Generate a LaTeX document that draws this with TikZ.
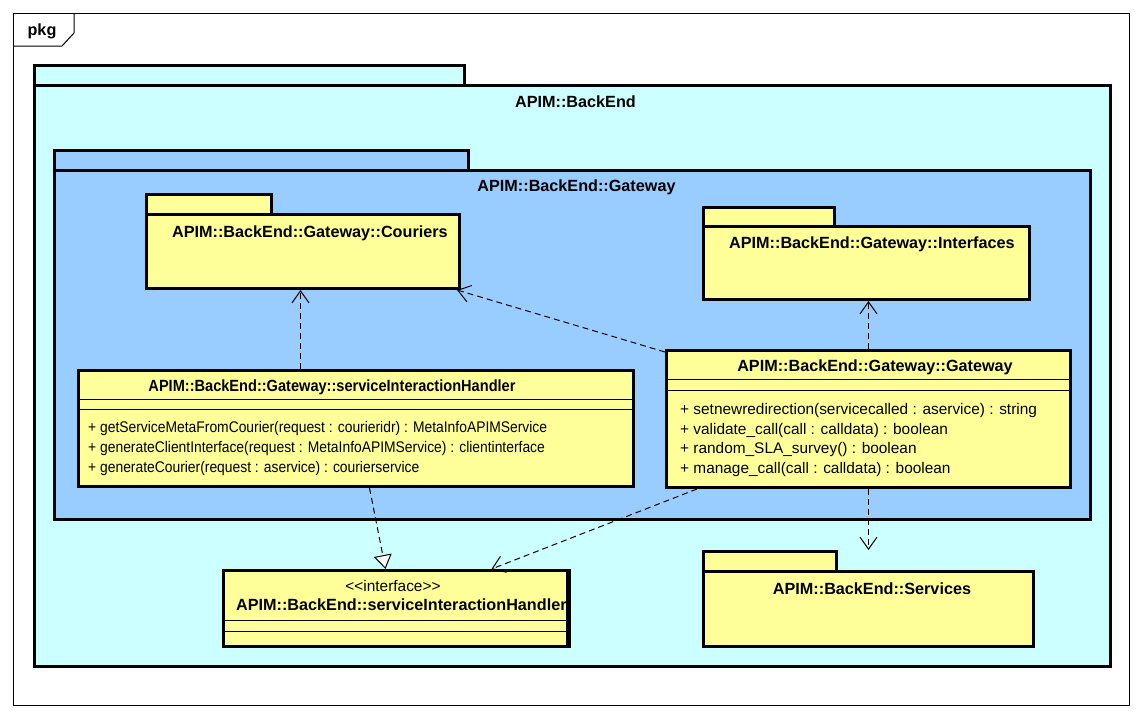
\documentclass[tikz,border=0pt]{standalone}
\usepackage{fontspec}
\setmainfont{Liberation Sans}
\usetikzlibrary{arrows.meta}
\definecolor{pkgcyan}{HTML}{CCFFFF}
\definecolor{pkgblue}{HTML}{99CCFF}
\definecolor{umlyellow}{HTML}{FFFF99}
\newcommand{\squeeze}[1]{\scalebox{0.9}[1]{#1}}
\begin{document}
\begin{tikzpicture}[x=1pt,y=-1pt,
  box/.style={draw, line width=3pt, inner sep=0pt, anchor=north west},
  bold/.style={font=\bfseries\fontsize{16.2}{18}\selectfont, inner sep=0pt, anchor=base},
  plain/.style={font=\fontsize{15.4}{18}\selectfont, inner sep=0pt, anchor=base},
  meth/.style={font=\fontsize{15.4}{18}\selectfont, inner sep=0pt, anchor=base west},
  sepline/.style={line width=1pt},
  dep/.style={line width=1pt, dash pattern=on 6pt off 4pt, -{Straight Barb[length=12pt,width=17pt,line width=1pt]}},
  real/.style={line width=1pt, dash pattern=on 6pt off 4pt, -{Triangle[length=14pt,width=18pt,fill=white,line width=1pt]}}
]
\useasboundingbox (0,0) rectangle (1142,718);
\fill[white] (0,0) rectangle (1142,718);

% frame
\node[draw, line width=1pt, inner sep=0pt, anchor=north west, minimum width=1116pt, minimum height=692pt] (frame) at (13,13) {};
\draw[line width=1pt] (13,46) -- (62,46) -- (74,33) -- (74,13);
\node[bold] (pkglbl) at (42,35.5) {pkg};

% BackEnd
\node[box, fill=pkgcyan, minimum width=430pt, minimum height=20pt] (betab) at (33,64) {};
\node[box, fill=pkgcyan, minimum width=1076pt, minimum height=581pt] (be) at (33,84) {};
\node[bold] (belbl) at (575.5,107) {APIM::BackEnd};

% Gateway package
\node[box, fill=pkgblue, minimum width=414pt, minimum height=20pt] (gptab) at (53,149) {};
\node[box, fill=pkgblue, minimum width=1036pt, minimum height=349pt] (gp) at (53,169) {};
\node[bold] (gplbl) at (576.5,191.3) {APIM::BackEnd::Gateway};

% Couriers
\node[box, fill=umlyellow, minimum width=125pt, minimum height=20pt] (courtab) at (145,193) {};
\node[box, fill=umlyellow, minimum width=313pt, minimum height=74pt] (cour) at (145,213) {};
\node[bold, anchor=base west] (courlbl) at (172,237.3) {APIM::BackEnd::Gateway::Couriers};

% Interfaces
\node[box, fill=umlyellow, minimum width=131pt, minimum height=19pt] (inttab) at (702,206) {};
\node[box, fill=umlyellow, minimum width=326pt, minimum height=73pt] (intf) at (702,225) {};
\node[bold, anchor=base west] (intlbl) at (729,248.3) {APIM::BackEnd::Gateway::Interfaces};

% Services
\node[box, fill=umlyellow, minimum width=133pt, minimum height=20pt] (svtab) at (702,550) {};
\node[box, fill=umlyellow, minimum width=330pt, minimum height=75pt] (sv) at (702,570) {};
\node[bold] (svlbl) at (872,594.3) {APIM::BackEnd::Services};

% class serviceInteractionHandler
\node[box, fill=umlyellow, minimum width=555pt, minimum height=116pt] (sih) at (77,369) {};
\node[bold] (sihlbl) at (332,391.7) {\squeeze{APIM::BackEnd::Gateway::serviceInteractionHandler}};
\draw[sepline] (sih.west |- 0,399) -- (sih.east |- 0,399);
\draw[sepline] (sih.west |- 0,409) -- (sih.east |- 0,409);
\node[meth] (sihop1) at (88,432.7) {\squeeze{+ getServiceMetaFromCourier(request : courieridr) : MetaInfoAPIMService}};
\node[meth] (sihop2) at (88,452.7) {\squeeze{+ generateClientInterface(request : MetaInfoAPIMService) : clientinterface}};
\node[meth] (sihop3) at (88,472.7) {\squeeze{+ generateCourier(request : aservice) : courierservice}};

% class Gateway
\node[box, fill=umlyellow, minimum width=404pt, minimum height=137pt] (gwc) at (665,349) {};
\node[bold] (gwclbl) at (875,371.7) {APIM::BackEnd::Gateway::Gateway};
\draw[sepline] (gwc.west |- 0,379) -- (gwc.east |- 0,379);
\draw[sepline] (gwc.west |- 0,390) -- (gwc.east |- 0,390);
\node[meth] (gwcop1) at (680,414) {+ setnewredirection(servicecalled : aservice) : string};
\node[meth] (gwcop2) at (680,434) {+ validate\_call(call : calldata) : boolean};
\node[meth] (gwcop3) at (680,453.5) {+ random\_SLA\_survey() : boolean};
\node[meth] (gwcop4) at (680,473) {+ manage\_call(call : calldata) : boolean};

% interface class
\node[box, fill=umlyellow, minimum width=344pt, minimum height=76pt] (ifc) at (222,569) {};
\node[plain] (ifcst) at (393,591.7) {\textless{}\textless{}interface\textgreater{}\textgreater{}};
\node[bold, anchor=base west] (ifclbl) at (236,610.7) {APIM::BackEnd::serviceInteractionHandler};
\draw[sepline] (ifc.west |- 0,620) -- (ifc.east |- 0,620);
\draw[sepline] (ifc.west |- 0,631) -- (ifc.east |- 0,631);
\draw[line width=3pt] (ifc.north east) -- (ifc.south east);

% connectors
\draw[dep] ([xshift=-55.5pt]sih.north) -- ([xshift=-2.5pt]cour.south);
\draw[dep] ([yshift=-3pt]gwc.north west) -- ([xshift=-4pt]cour.south east);
\draw[dep] (gwc.north) -- (gwc.north |- intf.south);
\draw[dep] (gwc.south) -- (gwc.south |- svtab.north);
\draw[real] ([xshift=13.5pt]sih.south) -- ([xshift=-10pt]ifc.north);
\draw[dep] ([xshift=32pt]gwc.south west) -- ([xshift=96pt]ifc.north);
\end{tikzpicture}
\end{document}
